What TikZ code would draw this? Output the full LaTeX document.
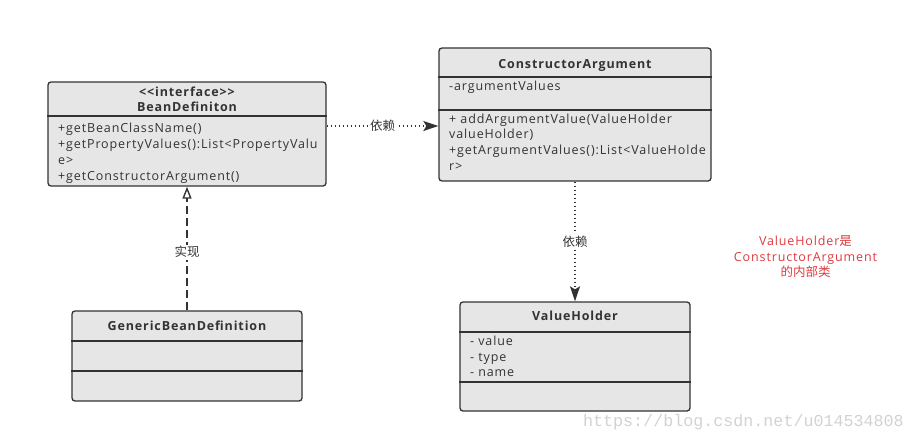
\documentclass[tikz,border=0pt]{standalone}
\usepackage{fontspec}
\setmainfont{Open Sans}[LetterSpace=7]
\newfontfamily\cjk{Noto Sans CJK SC}
\newfontfamily\wmfont{Liberation Mono}
\usepackage{tikz}
\usetikzlibrary{arrows.meta,positioning}
\definecolor{ink}{HTML}{333333}
\definecolor{boxfill}{HTML}{E6E6E6}
\definecolor{notered}{HTML}{E0393E}
\definecolor{wmgray}{HTML}{D2D2D2}

\begin{document}
\begin{tikzpicture}[x=1pt,y=-1pt,
   cls/.style={draw=ink,fill=boxfill,rounded corners=3pt,line width=1.3pt,inner sep=0pt},
   ttl/.style={font=\bfseries\fontsize{12.5}{15}\selectfont,text=ink,anchor=base,inner sep=0pt},
   mem/.style={font=\fontsize{12.5}{13}\selectfont,text=ink,anchor=base west,inner sep=0pt},
   rel/.style={font=\cjk\fontsize{12.5}{13}\selectfont,text=ink,fill=white,inner sep=1.5pt},
   note/.style={font=\fontsize{12.5}{13}\selectfont,text=notered,anchor=base,inner sep=0pt},
   dep/.style={ink,line width=1.4pt,dash pattern=on 1.5pt off 2.5pt,-{Stealth[length=15pt,width=10pt,inset=3pt]}},
   real/.style={ink,line width=1.4pt,dash pattern=on 8pt off 4pt,-{Triangle[open,length=12pt,width=9pt]}}]
  \useasboundingbox (0,0) rectangle (913,442);
  \node[cls,minimum width=278pt,minimum height=104pt] (bd) at (187,134) {};
  \node[cls,minimum width=272pt,minimum height=133pt] (ca) at (575,114.5) {};
  \node[cls,minimum width=230pt,minimum height=90pt] (gbd) at (187,356) {};
  \node[cls,minimum width=230pt,minimum height=109pt] (vh) at (575,356.5) {};
  \foreach \n/\y in {bd/116,ca/77,ca/110,gbd/341,gbd/371,vh/332,vh/382}{
     \draw[ink,line width=1.3pt] (\n.west |- 0,\y) -- (\n.east |- 0,\y);}
  \node[ttl] (bdt1) at (187,96.7) {<{}<interface>{}>};
  \node[ttl] (bdt2) at (187,111.7) {BeanDefiniton};
  \node[ttl] (cat) at (575,68.3) {ConstructorArgument};
  \node[ttl] (gbdt) at (187,330.7) {GenericBeanDefinition};
  \node[ttl] (vht) at (575,320.7) {ValueHolder};
  \foreach \t [count=\i] in {{+getBeanClassName()},{+getPropertyValues():List<PropertyValu},{e>},{+getConstructorArgument()}}{
     \node[mem] (bdm\i) at (58,116.4+15.9*\i) {\t};}
  \node[mem] (caf) at (449,90.7) {-argumentValues};
  \foreach \t [count=\i] in {{+ addArgumentValue(ValueHolder},{valueHolder)},{+getArgumentValues():List<ValueHolde},{r>}}{
     \node[mem] (cam\i) at (449,107.7+15.6*\i) {\t};}
  \foreach \t [count=\i] in {{- value},{- type},{- name}}{
     \node[mem] (vhf\i) at (470,329.6+15.7*\i) {\t};}
  \coordinate (d1) at ([yshift=8pt]bd.east);
  \draw[dep] (d1) -- (d1 -| ca.west) node[rel,midway] (l1) {依赖};
  \draw[dep] (ca) -- (vh) node[rel,midway] (l2) {依赖};
  \draw[real] (gbd) -- (bd) node[rel,pos=0.47] (l3) {实现};
  \node[note] (note1) at (805.5,245.7) {ValueHolder{\cjk 是}};
  \node[note] (note2) at (805.5,261) {ConstructorArgument};
  \node[note] (note3) at (805.5,276.5) {\cjk 的内部类};
  \node[font=\wmfont\fontsize{16.7}{17}\selectfont,text=wmgray,anchor=east,inner sep=0pt] (wm) at (904,422) {https://blog.csdn.net/u014534808};
\end{tikzpicture}
\end{document}
